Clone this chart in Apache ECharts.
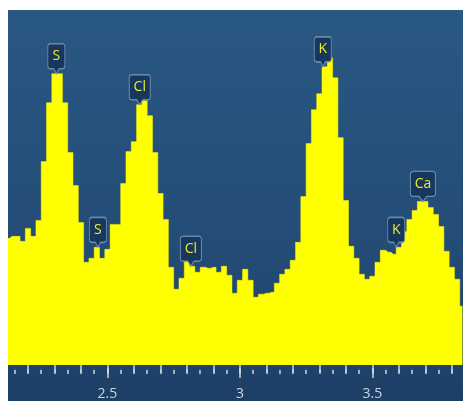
<!DOCTYPE html>
<html>
<head>
<meta charset="utf-8">
<script src="https://cdn.jsdelivr.net/npm/echarts@6/dist/echarts.min.js"></script>
<style>
  html, body { margin: 0; padding: 0; background: #ffffff; }
  body { width: 463px; height: 401px; position: relative; overflow: hidden; }
  #frame {
    position: absolute; left: 8px; top: 10px; width: 455px; height: 391px; overflow: hidden;
    background: linear-gradient(to bottom, #295883 0%, #234c76 60%, #1d3f66 100%);
  }
  #spectrum { position: absolute; left: -40px; top: 0; width: 560px; height: 391px; }
</style>
</head>
<body>
<div id="frame"><div id="spectrum"></div></div>
<script>
// Channel energies (keV) of the EDS spectrum, 20 eV per channel
const energies = [
  2.12, 2.14, 2.16, 2.18, 2.20, 2.22, 2.24, 2.26, 2.28, 2.30,
  2.32, 2.34, 2.36, 2.38, 2.40, 2.42, 2.44, 2.46, 2.48, 2.50,
  2.52, 2.54, 2.56, 2.58, 2.60, 2.62, 2.64, 2.66, 2.68, 2.70,
  2.72, 2.74, 2.76, 2.78, 2.80, 2.82, 2.84, 2.86, 2.88, 2.90,
  2.92, 2.94, 2.96, 2.98, 3.00, 3.02, 3.04, 3.06, 3.08, 3.10,
  3.12, 3.14, 3.16, 3.18, 3.20, 3.22, 3.24, 3.26, 3.28, 3.30,
  3.32, 3.34, 3.36, 3.38, 3.40, 3.42, 3.44, 3.46, 3.48, 3.50,
  3.52, 3.54, 3.56, 3.58, 3.60, 3.62, 3.64, 3.66, 3.68, 3.70,
  3.72, 3.74, 3.76, 3.78, 3.80, 3.82, 3.84
];

// Counts per channel
const counts = [
  127, 129, 129, 124, 137, 129, 145, 204, 263, 292,
  292, 263, 213, 180, 143, 103, 107, 118, 107, 116,
  141, 141, 182, 214, 224, 261, 265, 250, 213, 172,
  146, 98, 76, 87, 106, 99, 93, 98, 97, 98,
  93, 99, 90, 72, 85, 96, 85, 68, 71, 72,
  73, 82, 91, 96, 105, 123, 169, 222, 256, 272,
  299, 308, 288, 228, 165, 119, 107, 91, 86, 89,
  103, 115, 113, 111, 118, 134, 146, 155, 164, 164,
  158, 151, 139, 114, 98, 86, 59
];

// Identified X-ray lines
const lineNames = ['S', 'S', 'Cl', 'Cl', 'K', 'K', 'Ca'];
const lineEnergies = [2.307, 2.464, 2.622, 2.815, 3.313, 3.590, 3.691];

// Axis ticks (keV): labelled every 0.5, ticks every 0.1, fine ticks every 0.05
const majorTickStep = 0.5;
const tickStep = 0.1;
const fineTickStep = 0.05;
const axisMin = 2.0;
const axisMax = 4.0;

const channelWidth = 0.02;

function countsAt(e) {
  let idx = Math.floor((e - energies[0] + channelWidth / 2) / channelWidth + 1e-9);
  idx = Math.max(0, Math.min(counts.length - 1, idx));
  return counts[idx];
}

function badgeWidth(name) {
  return name.length > 1 ? (name === 'Ca' ? 25 : 21) : 17;
}

const badgePath = 'path://M3,0 H17 Q20,0 20,3 V22 Q20,25 17,25 H13 L10,30 L7,25 H3 Q0,25 0,22 V3 Q0,0 3,0 Z';

const chart = echarts.init(document.getElementById('spectrum'), null, { renderer: 'canvas' });

const tickColor = 'rgba(210,218,230,0.9)';
const labelFont = '"Open Sans", "Noto Sans", sans-serif';

function tickAxis(step, offset, length, withLabels) {
  return {
    type: 'value', min: axisMin, max: axisMax, interval: step,
    position: 'bottom', offset: offset,
    axisLine: { show: false },
    splitLine: { show: false },
    axisTick: { show: true, length: length, lineStyle: { color: tickColor, width: 1.6 } },
    axisLabel: withLabels ? {
      show: true, margin: 19, color: '#c9d2de', fontSize: 14, fontFamily: labelFont,
      formatter: v => String(v)
    } : { show: false }
  };
}

chart.setOption({
  animation: false,
  backgroundColor: 'transparent',
  // 1 keV spans 265 px; the frame shows roughly 2.127 to 3.838 keV
  grid: { left: 6.8, right: 23.2, top: 0, bottom: 35, containLabel: false },
  xAxis: [
    tickAxis(tickStep, 3, 7.5, false),
    tickAxis(fineTickStep, 4.8, 4.2, false),
    tickAxis(majorTickStep, 3, 10, true)
  ],
  yAxis: { type: 'value', min: 0, max: 356, show: false },
  series: [{
    type: 'line',
    step: 'middle',
    xAxisIndex: 0,
    symbol: 'none',
    silent: true,
    data: energies.map((e, i) => [e, counts[i]]),
    lineStyle: { width: 0.5, color: '#ffff00' },
    areaStyle: { color: '#ffff00', opacity: 1 },
    markPoint: {
      silent: true,
      symbol: badgePath,
      symbolOffset: [0, '-50%'],
      itemStyle: { color: '#17375c', borderColor: 'rgba(120,150,182,0.85)', borderWidth: 1.2 },
      label: {
        show: true, position: 'inside', offset: [0, -2.5],
        color: '#eaea3a', fontSize: 14, fontFamily: labelFont,
        formatter: p => p.name
      },
      data: lineNames.map((n, i) => ({
        name: n,
        coord: [lineEnergies[i], countsAt(lineEnergies[i])],
        symbolSize: [badgeWidth(n), 30]
      }))
    }
  }]
});
</script>
</body>
</html>
